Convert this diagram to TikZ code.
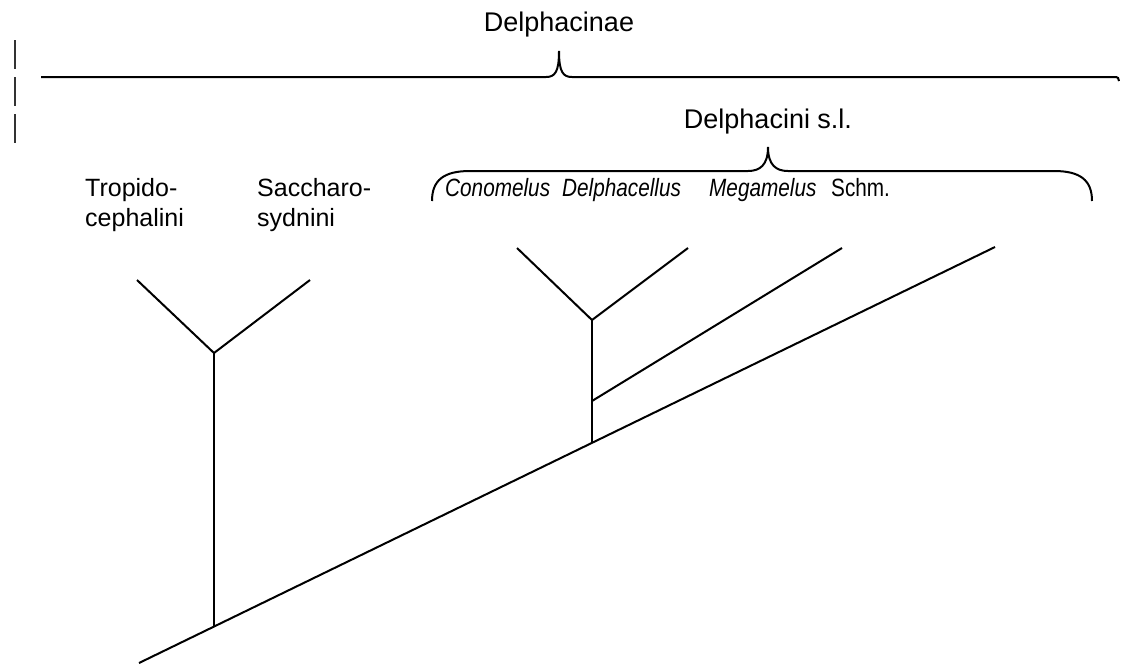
\documentclass[tikz,border=0pt]{standalone}
\usepackage{fontspec}
\setmainfont{Liberation Sans}
\newcommand{\narrowlbl}[1]{\scalebox{0.83}[1]{#1}}
\begin{document}
\begin{tikzpicture}[x=1pt,y=-1pt,
  br/.style={line width=2pt,line cap=butt},
  lbl/.style={inner sep=0pt,anchor=base west,font=\fontsize{25}{30}\selectfont},
  slbl/.style={inner sep=0pt,anchor=base west,font=\fontsize{25}{30}\selectfont},
  ttl/.style={inner sep=0pt,anchor=base,font=\fontsize{27}{32}\selectfont},
  brace/.style={line width=2pt},
  tick/.style={line width=1.5pt,draw=black!80}]
\useasboundingbox (0,0) rectangle (1121,665);
% left dashed marks
\draw[tick] (15,40) -- (15,69);
\draw[tick] (15,77) -- (15,106);
\draw[tick] (15,114) -- (15,143);
% titles
\node[ttl] (delphacinae) at (559,31) {Delphacinae};
\node[ttl] (delphacini) at (768,128) {Delphacini s.l.};
% braces
\coordinate (b1l) at (41,77);
\coordinate (b1t) at (559,51);
\coordinate (b1r) at (1119,81);
\draw[brace] (b1l) -- (546,77) .. controls (555,77) and (559,72) .. (b1t)
  .. controls (559,72) and (563,77) .. (572,77) -- (1114,77)
  .. controls (1118,77) and (1119,78) .. (b1r);
\coordinate (b2l) at (432,201);
\coordinate (b2t) at (768,147);
\coordinate (b2r) at (1092,201);
\draw[brace] (b2l) .. controls (432,180) and (444,171) .. (470,171) -- (748,171)
  .. controls (760,171) and (768,165) .. (b2t)
  .. controls (768,165) and (776,171) .. (788,171) -- (1054,171)
  .. controls (1080,171) and (1092,180) .. (b2r);
% labels
\node[lbl] (trop1) at (85,196) {Tropido-};
\node[lbl] (trop2) at (85,226) {cephalini};
\node[lbl] (sacc1) at (257,196) {Saccharo-};
\node[lbl] (sacc2) at (257,226) {sydnini};
\node[slbl] (cono) at (445,196) {\narrowlbl{\itshape Conomelus}};
\node[slbl] (delc) at (562,196) {\narrowlbl{\itshape Delphacellus}};
\node[slbl] (mega) at (709,196) {\narrowlbl{\itshape Megamelus}};
\node[slbl] (schm) at (831,196) {\narrowlbl{Schm.}};
% tree
\coordinate (root) at (139,663);
\coordinate (tipS) at (995,247);
\coordinate (jT) at (214,627);
\coordinate (nT) at (214,353);
\coordinate (tT1) at (137,280);
\coordinate (tT2) at (310,280);
\coordinate (jD) at (592,443);
\coordinate (jM) at (592,401);
\coordinate (nD) at (592,320);
\coordinate (tC) at (517,248);
\coordinate (tDl) at (688,248);
\coordinate (tM) at (842,248);
\draw[br] (root) -- (tipS);
\draw[br] (jT) -- (nT);
\draw[br] (tT1) -- (nT) -- (tT2);
\draw[br] (jD) -- (nD);
\draw[br] (tC) -- (nD) -- (tDl);
\draw[br] (jM) -- (tM);
\end{tikzpicture}
\end{document}
